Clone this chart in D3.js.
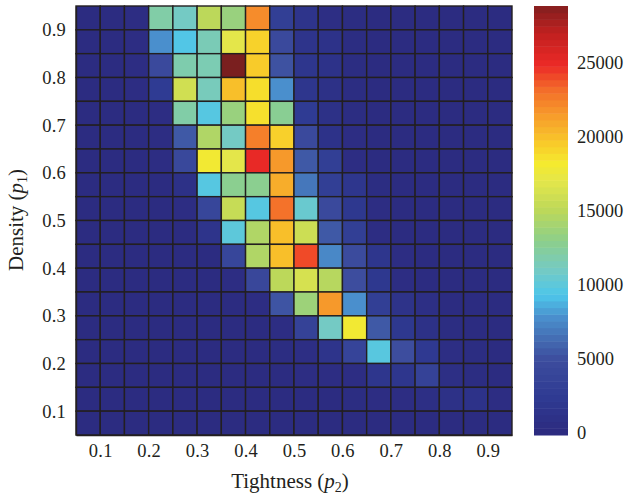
<!DOCTYPE html>
<html>
<head>
<meta charset="utf-8">
<script src="https://cdn.jsdelivr.net/npm/d3@7"></script>
<style>
  html, body { margin: 0; padding: 0; background: #fff; }
  text { font-family: "Liberation Serif", serif; fill: #231f20; }
</style>
</head>
<body>
<div id="chart"></div>
<script>
// cell lower edges, tightness across and density from the top row down
const tightness = [0.05, 0.1, 0.15, 0.2, 0.25, 0.3, 0.35, 0.4, 0.45, 0.5, 0.55, 0.6, 0.65, 0.7, 0.75, 0.8, 0.85, 0.9]
const density = [0.9, 0.85, 0.8, 0.75, 0.7, 0.65, 0.6, 0.55, 0.5, 0.45, 0.4, 0.35, 0.3, 0.25, 0.2, 0.15, 0.1, 0.05]
const counts = [
  [300, 300, 500, 12000, 11000, 15000, 13500, 22000, 3000, 1500, 600, 400, 300, 300, 300, 300, 300, 300],
  [300, 300, 500, 7800, 9500, 11500, 17000, 19200, 4500, 1500, 1200, 400, 300, 300, 300, 300, 300, 300],
  [300, 300, 500, 4500, 11800, 11600, 29000, 19500, 5200, 1800, 1200, 400, 300, 300, 300, 300, 300, 300],
  [300, 300, 500, 2500, 16000, 11300, 20000, 18700, 7800, 1800, 1000, 400, 300, 300, 300, 300, 300, 300],
  [300, 300, 300, 500, 12000, 9700, 13500, 18600, 12700, 2500, 1000, 400, 300, 300, 300, 300, 300, 300],
  [300, 300, 300, 500, 5500, 14500, 11000, 22500, 19300, 4500, 1200, 500, 300, 300, 300, 300, 300, 300],
  [300, 300, 300, 500, 4300, 18000, 17000, 25000, 21500, 5500, 3000, 500, 300, 300, 300, 300, 300, 300],
  [300, 300, 300, 300, 1000, 9700, 12800, 12800, 20700, 6800, 3000, 1800, 400, 300, 300, 300, 300, 300],
  [300, 300, 300, 300, 500, 4000, 15500, 9700, 23000, 10500, 4500, 2000, 500, 300, 300, 300, 300, 300],
  [300, 300, 300, 300, 300, 1500, 10000, 14500, 20000, 15800, 5500, 3000, 500, 300, 300, 300, 300, 300],
  [300, 300, 300, 300, 300, 300, 4000, 14500, 20000, 24000, 7500, 4700, 1800, 500, 300, 300, 300, 300],
  [300, 300, 300, 300, 300, 300, 500, 4200, 15000, 16300, 14800, 5000, 2000, 500, 300, 300, 300, 300],
  [300, 300, 300, 300, 300, 300, 300, 500, 5300, 13700, 21500, 7800, 3000, 1300, 700, 300, 300, 300],
  [300, 300, 300, 300, 300, 300, 300, 300, 500, 3500, 11000, 18000, 5500, 2000, 1000, 400, 300, 300],
  [300, 300, 300, 300, 300, 300, 300, 300, 400, 600, 1500, 3800, 9800, 5000, 2200, 600, 400, 300],
  [300, 300, 300, 300, 300, 300, 300, 300, 300, 500, 500, 500, 1800, 1800, 3500, 800, 400, 300],
  [300, 300, 300, 300, 300, 300, 300, 300, 300, 300, 300, 400, 500, 500, 800, 1000, 1200, 500],
  [300, 300, 300, 300, 300, 300, 300, 300, 300, 300, 300, 300, 300, 300, 300, 300, 300, 300]
]
const colorStops = [0, 2500, 5000, 6500, 7800, 9300, 11000, 13000, 15000, 17000, 18200, 19500, 21000, 23000, 24800, 27000, 29000]
const colorValues = ['#2c2a7f', '#2f3b93', '#3d4d9e', '#4470b5', '#4a8fcd', '#4dc6ea', '#74cac4', '#8dcf8a', '#bcd85a', '#e4e64a', '#f5ea2e', '#f8cb2a', '#f7a62b', '#f4722a', '#ec2a27', '#c0201f', '#7a1f1f']
const axisTicks = [0.1, 0.2, 0.3, 0.4, 0.5, 0.6, 0.7, 0.8, 0.9]
const barTicks = [0, 5000, 10000, 15000, 20000, 25000]
const barDomain = [-130, 28780]
const cellStep = 0.05
const barLevels = 64

const margin = { top: 6, right: 116, bottom: 59, left: 76 }
const width = 628 - margin.left - margin.right
const height = 494 - margin.top - margin.bottom
const lineColor = '#231f20'
const tickFont = '18.5px'

const svg = d3.select('#chart').append('svg')
  .attr('width', 628)
  .attr('height', 494)
  .style('display', 'block')

const g = svg.append('g')
  .attr('transform', `translate(${margin.left},${margin.top})`)

const x = d3.scaleLinear().domain([0.05, 0.95]).range([0, width])
const y = d3.scaleLinear().domain([0.05, 0.95]).range([height, 0])
const color = d3.scaleLinear().domain(colorStops).range(colorValues).clamp(true)

const cells = counts.flatMap((row, r) => row.map((v, c) => ({ p1: density[r], p2: tightness[c], v })))

g.selectAll('.cell')
  .data(cells)
  .enter()
  .append('rect')
  .attr('class', 'cell')
  .attr('x', d => x(d.p2))
  .attr('y', d => y(d.p1 + cellStep))
  .attr('width', d => x(d.p2 + cellStep) - x(d.p2))
  .attr('height', d => y(d.p1) - y(d.p1 + cellStep))
  .attr('fill', d => color(d.v))
  .attr('stroke', lineColor)
  .attr('stroke-width', 1.4)

const xAxis = g.append('g')
  .attr('transform', `translate(0,${height})`)
  .call(d3.axisBottom(x).tickValues(axisTicks).tickFormat(d3.format('.1f')).tickSize(0).tickPadding(9))
const yAxis = g.append('g')
  .call(d3.axisLeft(y).tickValues(axisTicks).tickFormat(d3.format('.1f')).tickSize(0).tickPadding(10))

;[xAxis, yAxis].forEach(a => {
  a.selectAll('.domain').attr('stroke', lineColor).attr('stroke-width', 1.4)
  a.selectAll('text').style('font-family', '"Liberation Serif", serif').style('font-size', tickFont).style('letter-spacing', '0.2px').attr('fill', lineColor)
})

// axis titles, p is italic with a lowered index
function addTitle(el, name, index) {
  el.append('tspan').text(name + ' (')
  el.append('tspan').text('p').style('font-style', 'italic')
  el.append('tspan').text(index).attr('dy', 4).style('font-size', '14px')
  el.append('tspan').text(')').attr('dy', -4)
}

svg.append('text')
  .attr('x', 290)
  .attr('y', 488)
  .attr('text-anchor', 'middle')
  .style('font-size', '21px')
  .call(addTitle, 'Tightness', '2')

svg.append('text')
  .attr('transform', 'translate(23,220) rotate(-90)')
  .attr('text-anchor', 'middle')
  .style('font-size', '21px')
  .call(addTitle, 'Density', '1')

// colour bar
const barX = 534
const barWidth = 34
const barScale = d3.scaleLinear().domain(barDomain).range([height, 0])
const levels = d3.range(barLevels).map(i => barDomain[0] + (barDomain[1] - barDomain[0]) * i / barLevels)
const levelSize = (barDomain[1] - barDomain[0]) / barLevels

const bar = svg.append('g')
  .attr('transform', `translate(${barX},${margin.top})`)

bar.selectAll('.level')
  .data(levels)
  .enter()
  .append('rect')
  .attr('class', 'level')
  .attr('x', 0)
  .attr('width', barWidth)
  .attr('y', d => barScale(d + levelSize))
  .attr('height', d => barScale(d) - barScale(d + levelSize) + 0.5)
  .attr('fill', d => color(d + levelSize / 2))

const barAxis = bar.append('g')
  .attr('transform', `translate(${barWidth},0)`)
  .call(d3.axisRight(barScale).tickValues(barTicks).tickFormat(d3.format('d')).tickSize(0).tickPadding(9))
barAxis.select('.domain').remove()
barAxis.selectAll('text').style('font-family', '"Liberation Serif", serif').style('font-size', tickFont).attr('fill', lineColor)
</script>
</body>
</html>
